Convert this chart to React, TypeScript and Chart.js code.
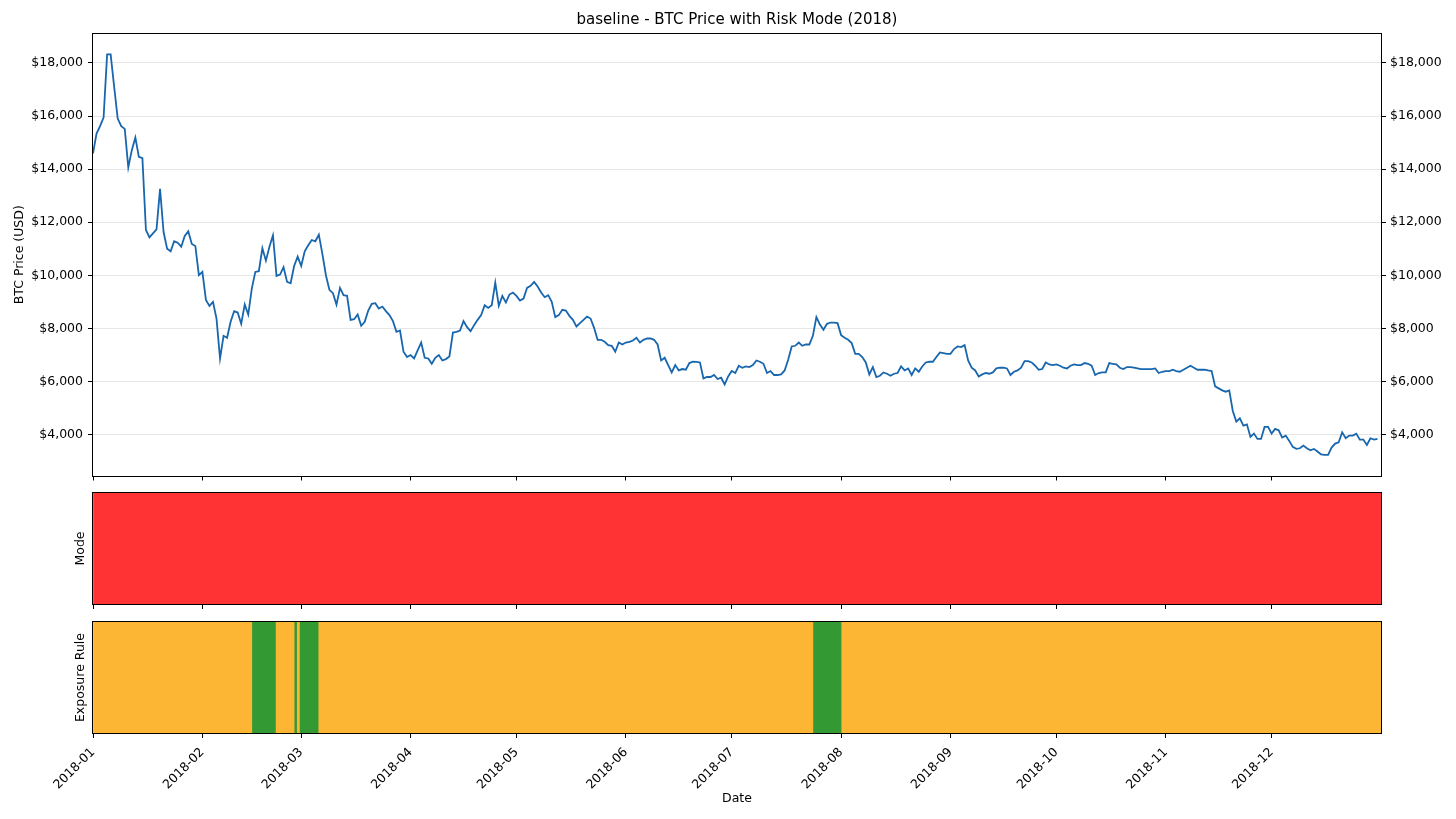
import React, { useEffect, useRef } from 'react';
import { Chart, registerables } from 'chart.js';

Chart.register(...registerables);

const FONT = "'DejaVu Sans', sans-serif";

const titleText = 'baseline - BTC Price with Risk Mode (2018)';
const priceAxisTitle = 'BTC Price (USD)';
const modeAxisTitle = 'Mode';
const exposureAxisTitle = 'Exposure Rule';
const dateAxisTitle = 'Date';

// day offsets (from 2018-01-01) of month starts and their labels
const monthTickDays = [0, 31, 59, 90, 120, 151, 181, 212, 243, 273, 304, 334];
const monthTickLabels = ['2018-01', '2018-02', '2018-03', '2018-04', '2018-05', '2018-06', '2018-07', '2018-08', '2018-09', '2018-10', '2018-11', '2018-12'];
const dayAxisMax = 365;

const priceTickValues = [4000, 6000, 8000, 10000, 12000, 14000, 16000, 18000];
const priceMin = 2460;
const priceMax = 19090;

// daily BTC close, 2018-01-01 .. 2018-12-31
const prices = [
  14590, 15340, 15617, 15944, 18323, 18323, 17100, 15906, 15617, 15515,
  14064, 14714, 15192, 14462, 14414, 11707, 11432, 11580, 11733, 13259,
  11632, 11005, 10906, 11282, 11229, 11079, 11481, 11658, 11181, 11105,
  10004, 10128, 9075, 8850, 9000, 8372, 6868, 7722, 7647, 8248,
  8650, 8598, 8173, 8898, 8523, 9500, 10128, 10154, 11020, 10553,
  11079, 11507, 9977, 10027, 10305, 9752, 9702, 10353, 10704, 10353,
  10906, 11132, 11331, 11282, 11530, 10805, 10004, 9451, 9327, 8898,
  9526, 9252, 9226, 8323, 8348, 8523, 8098, 8248, 8673, 8925,
  8950, 8749, 8823, 8650, 8500, 8274, 7872, 7921, 7120, 6921,
  6996, 6868, 7170, 7470, 6895, 6868, 6669, 6895, 6996, 6793,
  6845, 6944, 7846, 7872, 7921, 8274, 8049, 7898, 8124, 8323,
  8500, 8876, 8774, 8876, 9726, 8850, 9226, 8975, 9276, 9351,
  9226, 9049, 9125, 9526, 9602, 9752, 9576, 9351, 9176, 9252,
  9000, 8425, 8500, 8699, 8673, 8474, 8323, 8073, 8199, 8323,
  8448, 8372, 8023, 7571, 7571, 7496, 7372, 7346, 7120, 7470,
  7395, 7470, 7496, 7545, 7647, 7470, 7571, 7620, 7620, 7571,
  7395, 6793, 6895, 6620, 6342, 6620, 6417, 6470, 6444, 6696,
  6744, 6740, 6718, 6117, 6170, 6170, 6245, 6094, 6143, 5891,
  6192, 6395, 6320, 6594, 6519, 6568, 6545, 6620, 6793, 6744,
  6669, 6320, 6395, 6245, 6245, 6268, 6417, 6820, 7320, 7346,
  7470, 7346, 7395, 7395, 7722, 8425, 8147, 7947, 8173, 8222,
  8222, 8199, 7748, 7647, 7571, 7447, 7045, 7045, 6921, 6718,
  6268, 6545, 6170, 6218, 6342, 6293, 6218, 6293, 6320, 6568,
  6417, 6493, 6245, 6493, 6368, 6568, 6718, 6744, 6744, 6921,
  7094, 7070, 7045, 7045, 7222, 7320, 7297, 7372, 6793, 6519,
  6417, 6192, 6268, 6320, 6293, 6342, 6493, 6519, 6519, 6493,
  6245, 6368, 6417, 6519, 6770, 6770, 6718, 6594, 6444, 6470,
  6718, 6643, 6620, 6643, 6594, 6519, 6493, 6594, 6643, 6620,
  6620, 6696, 6669, 6594, 6245, 6320, 6342, 6342, 6696, 6669,
  6643, 6519, 6470, 6545, 6545, 6519, 6493, 6470, 6470, 6470,
  6470, 6493, 6320, 6368, 6395, 6395, 6444, 6395, 6368, 6444,
  6519, 6594, 6519, 6444, 6444, 6444, 6417, 6395, 5816, 5741,
  5666, 5617, 5666, 4891, 4489, 4613, 4338, 4387, 3913, 4038,
  3838, 3838, 4289, 4289, 4038, 4214, 4163, 3888, 3962, 3763,
  3537, 3462, 3486, 3586, 3486, 3410, 3462, 3361, 3259, 3235,
  3235, 3511, 3662, 3711, 4087, 3862, 3962, 3962, 4038, 3812,
  3812, 3611, 3862, 3812, 3838,
];

// risk mode segments (day offsets)
const modeStartDays = [0];
const modeEndDays = [365];
const modeNames = ['RISK_OFF'];

// exposure rule segments (day offsets)
const exposureStartDays = [0, 45, 51.7, 57, 57.7, 58.5, 63.8, 204, 212];
const exposureEndDays = [45, 51.7, 57, 57.7, 58.5, 63.8, 204, 212, 365];
const exposureRules = ['REDUCED', 'FULL', 'REDUCED', 'FULL', 'REDUCED', 'FULL', 'REDUCED', 'FULL', 'REDUCED'];

const modeColors: Record<string, string> = { RISK_OFF: '#ff3333', RISK_ON: '#339933' };
const ruleColors: Record<string, string> = { REDUCED: '#fdb534', FULL: '#339933' };

const LINE_COLOR = '#1766ae';
const PLOT_LEFT = 93;
const RIGHT_GAP = 75;

const framePlugin = {
  id: 'frame',
  afterDraw(chart: any) {
    const { ctx, chartArea: a } = chart;
    ctx.save();
    ctx.strokeStyle = '#000';
    ctx.lineWidth = 1;
    const l = Math.round(a.left) - 0.5;
    const t = Math.round(a.top) - 0.5;
    const r = Math.round(a.right) + 0.5;
    const b = Math.round(a.bottom) + 0.5;
    ctx.strokeRect(l, t, r - l, b - t);
    ctx.restore();
  },
};

const LABEL_SIZE = 12.5;
const fontLbl = { family: FONT, size: LABEL_SIZE, weight: 'normal' as const };

function monthAxis(showLabels: boolean, height: number, withTitle: boolean) {
  return {
    type: 'linear',
    min: 0,
    max: dayAxisMax,
    afterBuildTicks: (s: any) => {
      s.ticks = monthTickDays.map((v) => ({ value: v }));
    },
    afterFit: (s: any) => {
      s.height = height;
    },
    grid: { drawOnChartArea: false, drawTicks: true, tickLength: 5, tickColor: '#000', tickWidth: 1 },
    border: { display: false },
    ticks: showLabels
      ? {
          display: true,
          autoSkip: false,
          minRotation: 45,
          maxRotation: 45,
          padding: 7,
          color: '#000',
          font: fontLbl,
          callback: (_v: any, i: number) => monthTickLabels[i],
        }
      : { display: false },
    title: withTitle
      ? { display: true, text: dateAxisTitle, color: '#000', font: fontLbl, padding: { top: 0, bottom: 13 } }
      : { display: false },
  };
}

function bandAxis(title: string, label: string) {
  return {
    type: 'category',
    labels: [label],
    afterFit: (s: any) => {
      s.width = PLOT_LEFT;
    },
    grid: { display: false },
    border: { display: false },
    ticks: { display: false },
    title: { display: true, text: title, color: '#000', font: fontLbl, padding: { top: 73, bottom: 0 } },
  };
}

function PriceChart() {
  const ref = useRef<HTMLCanvasElement>(null);
  useEffect(() => {
    const priceTickLabel = (v: any) => '$' + Number(v).toLocaleString('en-US');
    const chart = new Chart(ref.current as HTMLCanvasElement, {
      type: 'line',
      data: {
        datasets: [
          {
            data: prices.map((y, x) => ({ x, y })),
            borderColor: LINE_COLOR,
            borderWidth: 1.8,
            pointRadius: 0,
            tension: 0,
            fill: false,
          },
        ],
      },
      options: {
        animation: false,
        responsive: false,
        events: [],
        layout: { padding: 0 },
        plugins: {
          legend: { display: false },
          tooltip: { enabled: false },
          title: {
            display: true,
            fullSize: false,
            text: titleText,
            color: '#000',
            font: { family: FONT, size: 15, weight: 'normal' },
            padding: { top: 11.5, bottom: 4.5 },
          },
        },
        scales: {
          x: monthAxis(false, 12, false) as any,
          y: {
            type: 'linear',
            position: 'left',
            min: priceMin,
            max: priceMax,
            afterBuildTicks: (s: any) => {
              s.ticks = priceTickValues.map((v) => ({ value: v }));
            },
            afterFit: (s: any) => {
              s.width = PLOT_LEFT;
            },
            grid: { color: '#e6e6e6', lineWidth: 1, drawTicks: true, tickLength: 5, tickColor: '#000' },
            border: { display: false },
            ticks: { color: '#000', font: fontLbl, padding: 5, callback: priceTickLabel },
            title: { display: true, text: priceAxisTitle, color: '#000', font: fontLbl, padding: { top: 12.5, bottom: 0 } },
          },
          y2: {
            type: 'linear',
            position: 'right',
            min: priceMin,
            max: priceMax,
            afterBuildTicks: (s: any) => {
              s.ticks = priceTickValues.map((v) => ({ value: v }));
            },
            afterFit: (s: any) => {
              s.width = RIGHT_GAP;
            },
            grid: { drawOnChartArea: false, drawTicks: true, tickLength: 5, tickColor: '#000' },
            border: { display: false },
            ticks: { color: '#000', font: fontLbl, padding: 4, callback: priceTickLabel },
          },
        },
      } as any,
      plugins: [framePlugin],
    });
    return () => chart.destroy();
  }, []);
  return <canvas ref={ref} width={1456} height={488} style={{ position: 'absolute', left: 0, top: 0, display: 'block' }} />;
}

function BandChart(props: {
  top: number;
  height: number;
  padTop: number;
  axisHeight: number;
  showLabels: boolean;
  title: string;
  label: string;
  starts: number[];
  ends: number[];
  kinds: string[];
  colors: Record<string, string>;
}) {
  const ref = useRef<HTMLCanvasElement>(null);
  useEffect(() => {
    const datasets = props.starts.map((s, i) => ({
      label: props.kinds[i],
      data: [[s, props.ends[i]]],
      backgroundColor: props.colors[props.kinds[i]],
      borderWidth: 0,
      grouped: false,
      barPercentage: 1,
      categoryPercentage: 1,
    }));
    const chart = new Chart(ref.current as HTMLCanvasElement, {
      type: 'bar',
      data: { labels: [props.label], datasets },
      options: {
        animation: false,
        responsive: false,
        events: [],
        indexAxis: 'y',
        layout: { padding: { top: props.padTop, right: RIGHT_GAP, left: 0, bottom: 0 } },
        plugins: { legend: { display: false }, tooltip: { enabled: false } },
        scales: {
          x: monthAxis(props.showLabels, props.axisHeight, props.showLabels) as any,
          y: bandAxis(props.title, props.label) as any,
        },
      } as any,
      plugins: [framePlugin],
    });
    return () => chart.destroy();
  }, []);
  return (
    <canvas
      ref={ref}
      width={1456}
      height={props.height}
      style={{ position: 'absolute', left: 0, top: props.top, display: 'block' }}
    />
  );
}

export default function App() {
  return (
    <div style={{ position: 'absolute', left: 0, top: 0, width: 1456, height: 819, background: '#fff', overflow: 'hidden' }}>
      <PriceChart />
      <BandChart
        top={485}
        height={125}
        padTop={8}
        axisHeight={6}
        showLabels={false}
        title={modeAxisTitle}
        label="mode"
        starts={modeStartDays}
        ends={modeEndDays}
        kinds={modeNames}
        colors={modeColors}
      />
      <BandChart
        top={612}
        height={207}
        padTop={10}
        axisHeight={86}
        showLabels={true}
        title={exposureAxisTitle}
        label="exposure"
        starts={exposureStartDays}
        ends={exposureEndDays}
        kinds={exposureRules}
        colors={ruleColors}
      />
    </div>
  );
}
